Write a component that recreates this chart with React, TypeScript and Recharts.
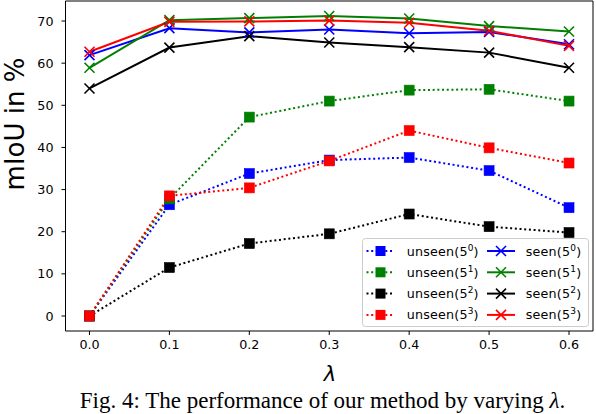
import React from 'react';
import { LineChart, Line, XAxis, YAxis, ReferenceArea, Legend } from 'recharts';

const lambdas = [0, 0.1, 0.2, 0.3, 0.4, 0.5, 0.6];
const xTicks = [0, 0.1, 0.2, 0.3, 0.4, 0.5, 0.6];
const yTicks = [0, 10, 20, 30, 40, 50, 60, 70];

const unseen50 = [0, 26.4, 33.8, 37.0, 37.6, 34.5, 25.7];
const unseen51 = [0, 27.8, 47.2, 51.0, 53.6, 53.8, 51.0];
const unseen52 = [0, 11.5, 17.2, 19.5, 24.2, 21.2, 19.8];
const unseen53 = [0, 28.5, 30.4, 36.8, 44.0, 39.9, 36.3];

const seen50 = [61.9, 68.3, 67.3, 68.0, 67.1, 67.4, 64.5];
const seen51 = [58.9, 70.2, 70.7, 71.2, 70.6, 68.8, 67.5];
const seen52 = [54.0, 63.7, 66.4, 64.9, 63.8, 62.5, 58.9];
const seen53 = [62.7, 69.8, 69.9, 70.1, 69.6, 67.7, 64.1];

const exponents = ['0', '1', '2', '3'];
const colors = ['#0000ff', '#008000', '#000000', '#ff0000'];
const unseenSeries = [unseen50, unseen51, unseen52, unseen53];
const seenSeries = [seen50, seen51, seen52, seen53];

const data = lambdas.map((x, i) => {
  const row: Record<string, number> = { x };
  exponents.forEach((e, k) => {
    row['u' + e] = unseenSeries[k][i];
    row['s' + e] = seenSeries[k][i];
  });
  return row;
});

const FONT = '"DejaVu Sans", sans-serif';

const makeSquare = (color: string) => (props: any) => {
  const { cx, cy, index } = props;
  if (cx == null || cy == null) return <g key={`sq${index}`} />;
  return (
    <rect
      key={`sq${index}`}
      x={cx - 5}
      y={cy - 5}
      width={10}
      height={10}
      fill={color}
      stroke={color}
      strokeWidth={0.6}
    />
  );
};

const makeCross = (color: string) => (props: any) => {
  const { cx, cy, index } = props;
  if (cx == null || cy == null) return <g key={`cx${index}`} />;
  const h = 5;
  return (
    <g key={`cx${index}`} stroke={color} strokeWidth={1.6}>
      <line x1={cx - h} y1={cy - h} x2={cx + h} y2={cy + h} />
      <line x1={cx - h} y1={cy + h} x2={cx + h} y2={cy - h} />
    </g>
  );
};

const LegendBox = () => (
  <svg width={228} height={90} style={{ display: 'block' }}>
    <rect x={0.5} y={0.5} width={226} height={88} rx={3} fill="rgba(255,255,255,0.85)" stroke="#cccccc" />
    {exponents.map((e, i) => {
      const cy = 13 + i * 21.3;
      const c = colors[i];
      return (
        <g key={e}>
          <line x1={4.5} y1={cy} x2={31} y2={cy} stroke={c} strokeWidth={2} strokeDasharray="2 2.7" />
          <rect x={13.5} y={cy - 5} width={10} height={10} fill={c} />
          <text x={44.7} y={cy + 4.5} fontFamily={FONT} fontSize={12.7} fill="#000" letterSpacing={0.2}>
            unseen(5<tspan fontSize={9} dy={-5}>{e}</tspan>
            <tspan dy={5}>)</tspan>
          </text>
          <line x1={125} y1={cy} x2={153} y2={cy} stroke={c} strokeWidth={2} />
          <line x1={134} y1={cy - 5} x2={144} y2={cy + 5} stroke={c} strokeWidth={1.6} />
          <line x1={134} y1={cy + 5} x2={144} y2={cy - 5} stroke={c} strokeWidth={1.6} />
          <text x={163.7} y={cy + 4.5} fontFamily={FONT} fontSize={12.7} fill="#000" letterSpacing={0.2}>
            seen(5<tspan fontSize={9} dy={-5}>{e}</tspan>
            <tspan dy={5}>)</tspan>
          </text>
        </g>
      );
    })}
  </svg>
);

export default function App() {
  const lines: React.ReactNode[] = [];
  exponents.forEach((e, k) => {
    lines.push(
      <Line
        key={'u' + e}
        dataKey={'u' + e}
        stroke={colors[k]}
        strokeWidth={2}
        strokeDasharray="2 2.7"
        dot={makeSquare(colors[k])}
        activeDot={false}
        isAnimationActive={false}
      />
    );
    lines.push(
      <Line
        key={'s' + e}
        dataKey={'s' + e}
        stroke={colors[k]}
        strokeWidth={2}
        dot={makeCross(colors[k])}
        activeDot={false}
        isAnimationActive={false}
      />
    );
  });

  return (
    <div style={{ position: 'absolute', left: 0, top: 0, width: 596, height: 414, background: '#fff' }}>
      <LineChart
        width={596}
        height={414}
        data={data}
        margin={{ top: 1, right: 3, left: 0, bottom: 53 }}
      >
        <XAxis
          dataKey="x"
          type="number"
          domain={[-0.03, 0.63]}
          allowDataOverflow
          ticks={xTicks}
          tickFormatter={(v: number) => v.toFixed(1)}
          height={30}
          axisLine={false}
          tickLine={{ stroke: '#000' }}
          tickSize={4}
          tickMargin={5}
          tick={{ fill: '#000', fontFamily: FONT, fontSize: 12.7 }}
        />
        <YAxis
          type="number"
          domain={[-3.56, 74.75]}
          allowDataOverflow
          ticks={yTicks}
          width={65.5}
          axisLine={false}
          tickLine={{ stroke: '#000' }}
          tickSize={4}
          tickMargin={8}
          tick={{ fill: '#000', fontFamily: FONT, fontSize: 12.7 }}
        />
        <ReferenceArea
          x1={-0.03}
          x2={0.63}
          y1={-3.56}
          y2={74.75}
          fill="none"
          fillOpacity={0}
          stroke="#000"
          strokeWidth={1}
          strokeOpacity={1}
          ifOverflow="visible"
        />
        {lines}
        <Legend
          layout="horizontal"
          verticalAlign="middle"
          align="center"
          content={() => <LegendBox />}
          wrapperStyle={{ position: 'absolute', left: 362, top: 238, width: 228, height: 90 }}
        />
      </LineChart>
      <svg
        width={596}
        height={414}
        style={{ position: 'absolute', left: 0, top: 0, pointerEvents: 'none' }}
      >
        <text
          transform="translate(24,124) rotate(-90)"
          textAnchor="middle"
          fontFamily={FONT}
          fontSize={26}
          fill="#000"
        >
          mIoU in %
        </text>
        <text x={330} y={381} textAnchor="middle" fontFamily={FONT} fontStyle="italic" fontSize={21} fill="#000">
          λ
        </text>
        <text
          x={322.5}
          y={407.5}
          textAnchor="middle"
          fontFamily='"Liberation Serif", "Times New Roman", serif'
          fontSize={23}
          fill="#000"
        >
          Fig. 4: The performance of our method by varying <tspan fontStyle="italic">λ</tspan>.
        </text>
      </svg>
    </div>
  );
}
